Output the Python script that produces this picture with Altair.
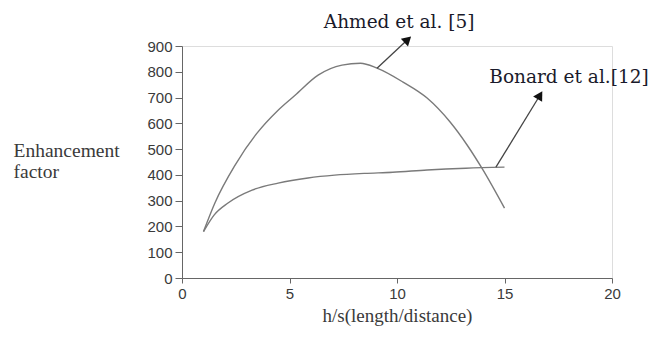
import altair as alt
import pandas as pd

ahmed_x = [1, 1.53, 2.47, 3.49, 4.47, 5.26, 6.33, 7.44, 8.3, 9.07, 10.28, 11.4, 12.47, 13.26, 13.95, 15]
ahmed_y = [180, 291, 438, 562, 651, 709, 787, 826, 833, 814, 760, 698, 605, 516, 426, 271]

bonard_x = [1, 1.5, 2.14, 3.26, 4.47, 5.86, 7.1, 8.5, 9.8, 11.4, 13.2, 15]
bonard_y = [180, 245, 291, 341, 368, 388, 399, 406, 410, 419, 426, 430]

y_ticks = [0, 100, 200, 300, 400, 500, 600, 700, 800, 900]
x_ticks = [0, 5, 10, 15, 20]

label_text = ["Ahmed et al. [5]", "Bonard et al.[12]"]
label_x = [10.1, 18.0]
label_y = [995, 780]

arrow_x = [9.07, 14.6]
arrow_y = [814, 430]
arrow_x2 = [10.5, 16.65]
arrow_y2 = [925, 709]
arrow_angle = [47, 31]

lines = pd.DataFrame(
    [{"series": "Ahmed", "x": a, "y": b, "o": i} for i, (a, b) in enumerate(zip(ahmed_x, ahmed_y))]
    + [{"series": "Bonard", "x": a, "y": b, "o": i} for i, (a, b) in enumerate(zip(bonard_x, bonard_y))]
)
labels = pd.DataFrame({"t": label_text, "x": label_x, "y": label_y})
arrows = pd.DataFrame({"x": arrow_x, "y": arrow_y, "x2": arrow_x2, "y2": arrow_y2, "a": arrow_angle})

xs = alt.Scale(domain=[0, 20], nice=False)
ys = alt.Scale(domain=[0, 900], nice=False)

x_axis = alt.Axis(
    values=x_ticks, title="h/s(length/distance)", grid=False,
    labelFont="Liberation Sans", labelFontSize=15, labelColor="#3a3a3a",
    labelFlush=False, labelOverlap=False, labelBound=False,
    titleFont="Liberation Serif", titleFontSize=19, titleFontWeight="normal", titleColor="#3a3a3a",
    titlePadding=5, domainColor="#666", tickColor="#666", tickSize=5, labelPadding=3)
y_axis = alt.Axis(
    values=y_ticks, tickCount=10, title=["Enhancement", "factor"], grid=False,
    labelFont="Liberation Sans", labelFontSize=15, labelColor="#3a3a3a",
    labelFlush=False, labelOverlap=False, labelBound=False,
    titleFont="Liberation Serif", titleFontSize=19.5, titleFontWeight="normal", titleColor="#3a3a3a",
    titleAngle=0, titleAlign="left", titleBaseline="middle", titleX=-169, titleY=104,
    titleLineHeight=21,
    domainColor="#666", tickColor="#666", tickSize=7, labelPadding=3)

curve = alt.Chart(lines).mark_line(color="#7a7a7a", strokeWidth=1.4, interpolate="monotone").encode(
    x=alt.X("x:Q", scale=xs, axis=x_axis), y=alt.Y("y:Q", scale=ys, axis=y_axis),
    detail="series:N", order="o:Q")

shaft = alt.Chart(arrows).mark_rule(color="#444", strokeWidth=1.3).encode(
    x=alt.X("x:Q", scale=xs, axis=x_axis), y=alt.Y("y:Q", scale=ys, axis=y_axis), x2="x2:Q", y2="y2:Q")
head = alt.Chart(arrows).mark_point(shape="triangle-up", filled=True, color="#111", size=110, opacity=1).encode(
    x=alt.X("x2:Q", scale=xs, axis=x_axis), y=alt.Y("y2:Q", scale=ys, axis=y_axis),
    angle=alt.Angle("a:Q", scale=None))

text = alt.Chart(labels).mark_text(font="DejaVu Serif", fontSize=18.5, color="#1a1a2a", align="center", baseline="middle").encode(
    x=alt.X("x:Q", scale=xs, axis=x_axis), y=alt.Y("y:Q", scale=ys, axis=y_axis), text="t:N")

chart = alt.layer(curve, shaft, head, text).properties(
    width=430, height=232,
    autosize=alt.AutoSizeParams(type="none"),
    padding={"left": 182, "top": 46, "right": 39, "bottom": 60},
).configure_view(stroke=None).configure(background="white")

chart.save("out.html", embed_options={"renderer": "svg", "actions": False})
